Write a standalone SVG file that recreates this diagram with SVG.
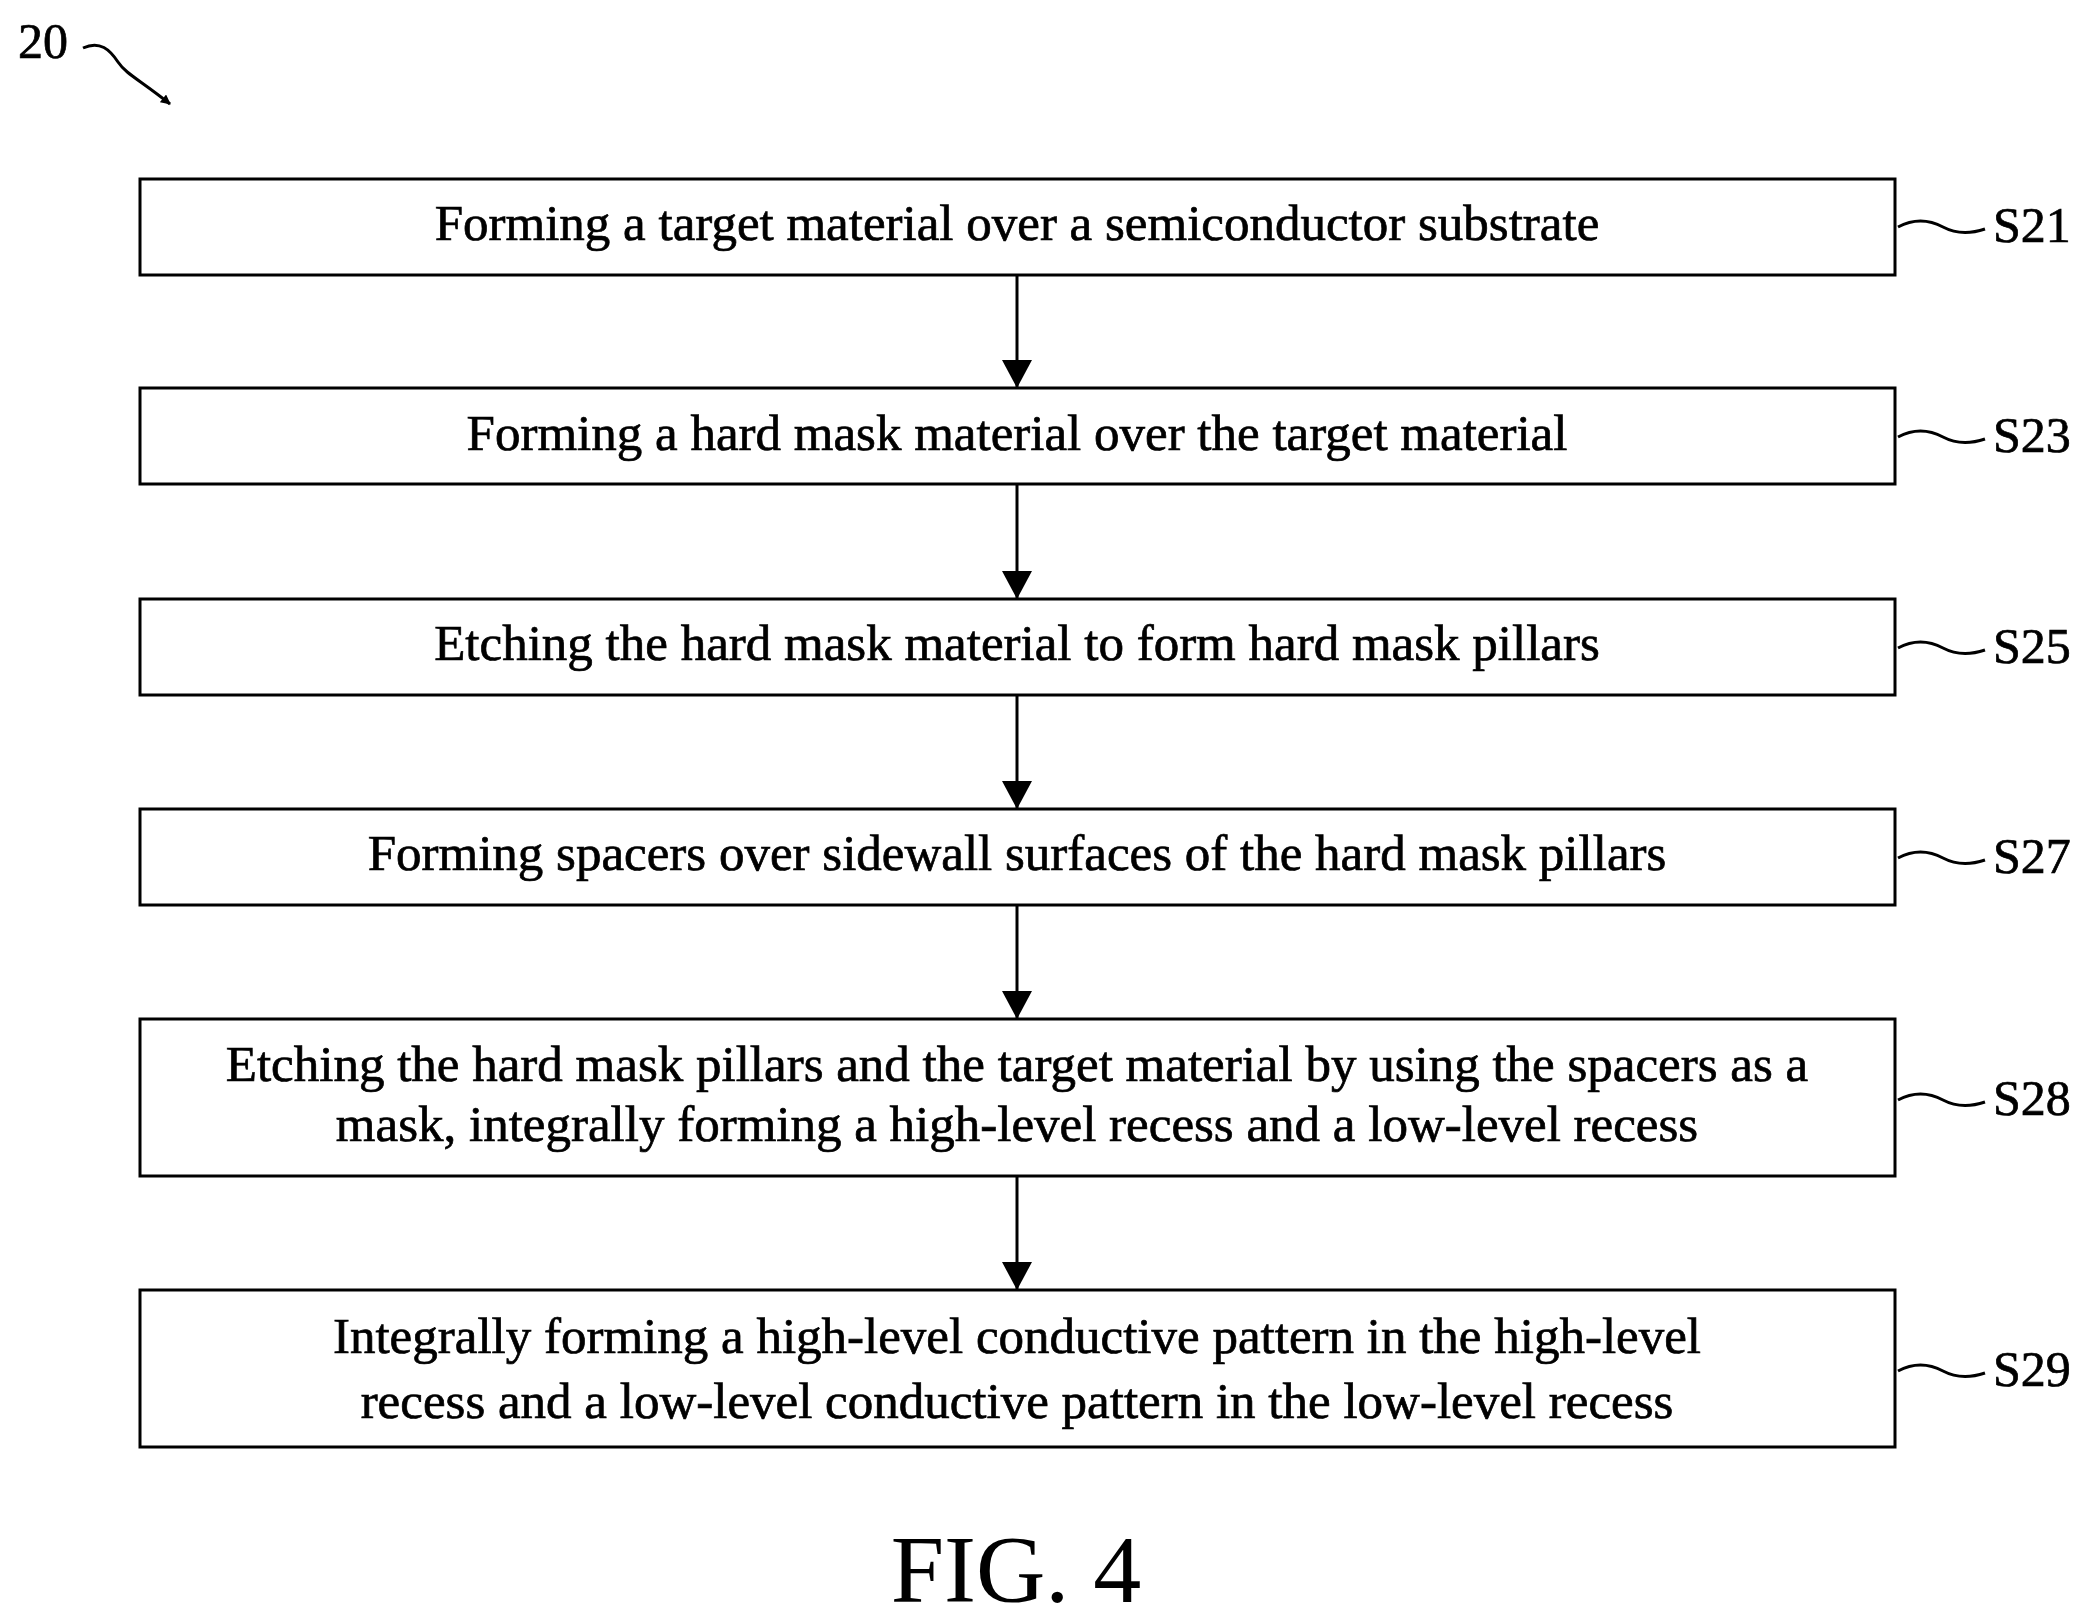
<svg xmlns="http://www.w3.org/2000/svg" width="2091" height="1623" viewBox="0 0 2091 1623">
<style>
.b{fill:#fff;stroke:#000;stroke-width:3}
.t{font-family:"Liberation Serif",serif;font-size:51px;text-anchor:middle;fill:#000;stroke:#000;stroke-width:0.7}
.l{font-family:"Liberation Serif",serif;font-size:50px;fill:#000;stroke:#000;stroke-width:0.7}
.c{fill:none;stroke:#000;stroke-width:3}
</style>
<defs><marker id="a" markerWidth="10" markerHeight="10" refX="9" refY="5" orient="auto" markerUnits="userSpaceOnUse" viewBox="0 0 10 10"><path d="M0,0L10,5L0,10z"/></marker>
<marker id="A" markerWidth="28" markerHeight="30" refX="28" refY="15" orient="auto" markerUnits="userSpaceOnUse"><path d="M0,0L28,15L0,30z"/></marker></defs>
<rect width="2091" height="1623" fill="#fff"/>
<text class="l" x="18" y="58">20</text>
<path class="c" d="M83,48 C100,40 110,50 118,62 C126,74 140,80 170,104" marker-end="url(#a)"/>
<g id="n1"><rect class="b" x="140" y="179" width="1755" height="96"/><text class="t" x="1017" y="240">Forming a target material over a semiconductor substrate</text></g>
<g id="n2"><rect class="b" x="140" y="388" width="1755" height="96"/><text class="t" x="1017" y="450">Forming a hard mask material over the target material</text></g>
<g id="n3"><rect class="b" x="140" y="599" width="1755" height="96"/><text class="t" x="1017" y="660">Etching the hard mask material to form hard mask pillars</text></g>
<g id="n4"><rect class="b" x="140" y="809" width="1755" height="96"/><text class="t" x="1017" y="870">Forming spacers over sidewall surfaces of the hard mask pillars</text></g>
<g id="n5"><rect class="b" x="140" y="1019" width="1755" height="157"/><text class="t" x="1017" y="1081">Etching the hard mask pillars and the target material by using the spacers as a</text><text class="t" x="1017" y="1141">mask, integrally forming a high-level recess and a low-level recess</text></g>
<g id="n6"><rect class="b" x="140" y="1290" width="1755" height="157"/><text class="t" x="1017" y="1353">Integrally forming a high-level conductive pattern in the high-level</text><text class="t" x="1017" y="1418">recess and a low-level conductive pattern in the low-level recess</text></g>
<g id="labels">
<text class="l" x="1993" y="242">S21</text><text class="l" x="1993" y="452">S23</text><text class="l" x="1993" y="663">S25</text><text class="l" x="1993" y="873">S27</text><text class="l" x="1993" y="1115">S28</text><text class="l" x="1993" y="1386">S29</text>
</g>
<g id="connectors">
<path class="c" d="M1017,275V388" marker-end="url(#A)"/>
<path class="c" d="M1017,484V599" marker-end="url(#A)"/>
<path class="c" d="M1017,695V809" marker-end="url(#A)"/>
<path class="c" d="M1017,905V1019" marker-end="url(#A)"/>
<path class="c" d="M1017,1176V1290" marker-end="url(#A)"/>
<path class="c" d="M1898,227c15,-8 30,-8 45,0s30,6 42,2"/>
<path class="c" d="M1898,437c15,-8 30,-8 45,0s30,6 42,2"/>
<path class="c" d="M1898,648c15,-8 30,-8 45,0s30,6 42,2"/>
<path class="c" d="M1898,858c15,-8 30,-8 45,0s30,6 42,2"/>
<path class="c" d="M1898,1100c15,-8 30,-8 45,0s30,6 42,2"/>
<path class="c" d="M1898,1371c15,-8 30,-8 45,0s30,6 42,2"/>
</g>
<text x="1016" y="1602" style="font-family:'Liberation Serif',serif;font-size:96px;text-anchor:middle">FIG. 4</text>
</svg>
